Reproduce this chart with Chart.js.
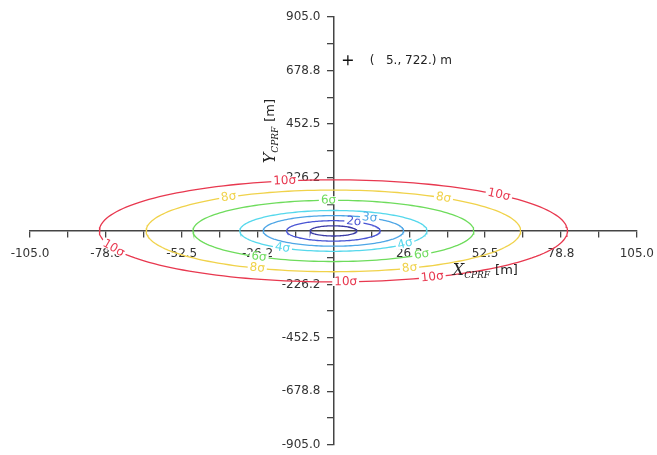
<!DOCTYPE html>
<html>
<head>
<meta charset="utf-8">
<script src="https://cdn.jsdelivr.net/npm/chart.js@4.4.1/dist/chart.umd.min.js"></script>
<style>
  body { margin: 0; background: #fff; }
  #wrap { width: 657px; height: 455px; position: relative; }
</style>
</head>
<body>
<div id="wrap"><canvas id="chart"></canvas></div>
<script>
// error ellipse data (metres)
const sigmaLevels = [1, 2, 3, 4, 6, 8, 10];
const sigmaX = 8.1;
const sigmaY = 21.6;
// where each contour carries its label, parametric angle in degrees
const labelAngles = [[], [64], [59], [237, 320], [92, 238, 309], [124, 54, 246, 294], [102, 45, 200, 273, 295]];

const marker = { x: 5, y: 722 };
const markerText = '(   5., 722.) m';

const xTickValues = [-105, -78.75, -52.5, -26.25, 26.25, 52.5, 78.75, 105];
const xTickLabels = ['-105.0', '-78.8', '-52.5', '-26.2', '26.2', '52.5', '78.8', '105.0'];
const yTickValues = [-905, -678.75, -452.5, -226.25, 226.25, 452.5, 678.75, 905];
const yTickLabels = ['-905.0', '-678.8', '-452.5', '-226.2', '226.2', '452.5', '678.8', '905.0'];

const levelColors = ['#3b3ba6', '#4a55d4', '#4ea6e6', '#55d8ec', '#6edc5c', '#f0d24a', '#e8384f'];

function ellipse(k) {
    const pts = [];
    for (let i = 0; i <= 180; i++) {
        const t = i / 180 * 2 * Math.PI;
        pts.push({ x: k * sigmaX * Math.cos(t), y: k * sigmaY * Math.sin(t) });
    }
    return pts;
}

function labelFor(v, values, labels) {
    const i = values.findIndex(a => Math.abs(a - v) < 1e-6);
    return i >= 0 ? labels[i] : '';
}

const datasets = sigmaLevels.map((k, i) => ({
    data: ellipse(k),
    showLine: true,
    borderColor: levelColors[i],
    borderWidth: 1.3,
    pointRadius: 0,
    tension: 0
}));
datasets.push({
    data: [marker],
    pointStyle: 'cross',
    pointRadius: 5,
    borderColor: '#111',
    borderWidth: 1.3
});

// contour labels, with a small gap cut into the line
const sigmaLabels = {
    id: 'sigmaLabels',
    afterDatasetsDraw(chart) {
        const { ctx, scales: { x, y } } = chart;
        ctx.save();
        ctx.font = '12px "DejaVu Sans"';
        ctx.textAlign = 'center';
        ctx.textBaseline = 'middle';
        sigmaLevels.forEach((k, i) => {
            labelAngles[i].forEach(deg => {
                const t = deg * Math.PI / 180;
                const px = x.getPixelForValue(k * sigmaX * Math.cos(t));
                const py = y.getPixelForValue(k * sigmaY * Math.sin(t));
                const tx = x.getPixelForValue(-k * sigmaX * Math.sin(t)) - x.getPixelForValue(0);
                const ty = y.getPixelForValue(k * sigmaY * Math.cos(t)) - y.getPixelForValue(0);
                let a = Math.atan2(ty, tx);
                if (a > Math.PI / 2) a -= Math.PI;
                if (a < -Math.PI / 2) a += Math.PI;
                const txt = k + 'σ';
                const w = ctx.measureText(txt).width;
                ctx.save();
                ctx.translate(px, py);
                ctx.rotate(a);
                ctx.fillStyle = '#fff';
                ctx.fillRect(-w / 2 - 2, -4, w + 4, 8);
                ctx.fillStyle = levelColors[i];
                ctx.fillText(txt, 0, 0);
                ctx.restore();
            });
        });
        ctx.restore();
    }
};

// axes placed at 0 draw their labels tight to the line; push them off it
const labelShift = { x: [0, 7], y: [-13, 0] };
const axisLabelGap = {
    id: 'axisLabelGap',
    beforeDraw(chart) {
        Object.keys(labelShift).forEach(id => {
            const s = chart.scales[id];
            if (s._gapPatched) return;
            const orig = s.drawLabels;
            const [dx, dy] = labelShift[id];
            s.drawLabels = function (area) {
                this.ctx.save();
                this.ctx.translate(dx, dy);
                orig.call(this, area);
                this.ctx.restore();
            };
            s._gapPatched = true;
        });
    }
};

function drawParts(ctx, parts, x0, y0, rot) {
    ctx.save();
    ctx.translate(x0, y0);
    ctx.rotate(rot);
    ctx.textBaseline = 'alphabetic';
    ctx.textAlign = 'left';
    let cx = 0;
    parts.forEach(p => {
        ctx.font = p.font;
        ctx.fillText(p.text, cx, p.dy);
        cx += ctx.measureText(p.text).width + p.gap;
    });
    ctx.restore();
}

// axis titles and the marker note
const notes = {
    id: 'notes',
    afterDraw(chart) {
        const { ctx, scales: { x, y } } = chart;
        ctx.save();
        ctx.fillStyle = '#222';
        ctx.font = '12px "DejaVu Sans"';
        ctx.textBaseline = 'middle';
        ctx.fillText(markerText, x.getPixelForValue(marker.x) + 22, y.getPixelForValue(marker.y) + 1);

        const serif = 'italic 16px "DejaVu Serif"';
        const sub = 'italic 9px "DejaVu Serif"';
        const unit = '13px "DejaVu Sans"';
        const parts = [
            { text: 'X', font: serif, dy: 0, gap: 0 },
            { text: 'CPRF', font: sub, dy: 3, gap: 5 },
            { text: '[m]', font: unit, dy: -1, gap: 0 }
        ];
        drawParts(ctx, parts, x.getPixelForValue(41.3), y.getPixelForValue(0) + 44, 0);
        const partsY = [
            { text: 'Y', font: serif, dy: 0, gap: 0 },
            { text: 'CPRF', font: sub, dy: 3, gap: 5 },
            { text: '[m]', font: unit, dy: -1, gap: 0 }
        ];
        drawParts(ctx, partsY, x.getPixelForValue(0) - 58, y.getPixelForValue(286), -Math.PI / 2);
        ctx.restore();
    }
};

const tickFont = { family: 'DejaVu Sans', size: 12 };

new Chart(document.querySelector('#chart'), {
    type: 'scatter',
    data: { datasets },
    options: {
        responsive: true,
        maintainAspectRatio: false,
        animation: false,
        layout: { padding: { left: 30, right: 20, top: 17, bottom: 10 } },
        plugins: { legend: { display: false }, tooltip: { enabled: false } },
        scales: {
            x: {
                type: 'linear',
                min: -105,
                max: 105,
                position: { y: 0 },
                z: 1,
                ticks: {
                    stepSize: 13.125,
                    autoSkip: false,
                    maxRotation: 0,
                    padding: 3,
                    color: '#333',
                    font: tickFont,
                    callback: v => labelFor(v, xTickValues, xTickLabels)
                },
                grid: { drawOnChartArea: false, tickLength: 6, color: '#444', lineWidth: 1.3 },
                border: { color: '#444', width: 1.5 }
            },
            y: {
                type: 'linear',
                min: -905,
                max: 905,
                position: { x: 0 },
                z: 1,
                ticks: {
                    stepSize: 113.125,
                    autoSkip: false,
                    padding: 3,
                    color: '#333',
                    font: tickFont,
                    callback: v => labelFor(v, yTickValues, yTickLabels)
                },
                grid: { drawOnChartArea: false, tickLength: 6, color: '#444', lineWidth: 1.3 },
                border: { color: '#444', width: 1.5 }
            }
        }
    },
    plugins: [sigmaLabels, axisLabelGap, notes]
});
</script>
</body>
</html>
